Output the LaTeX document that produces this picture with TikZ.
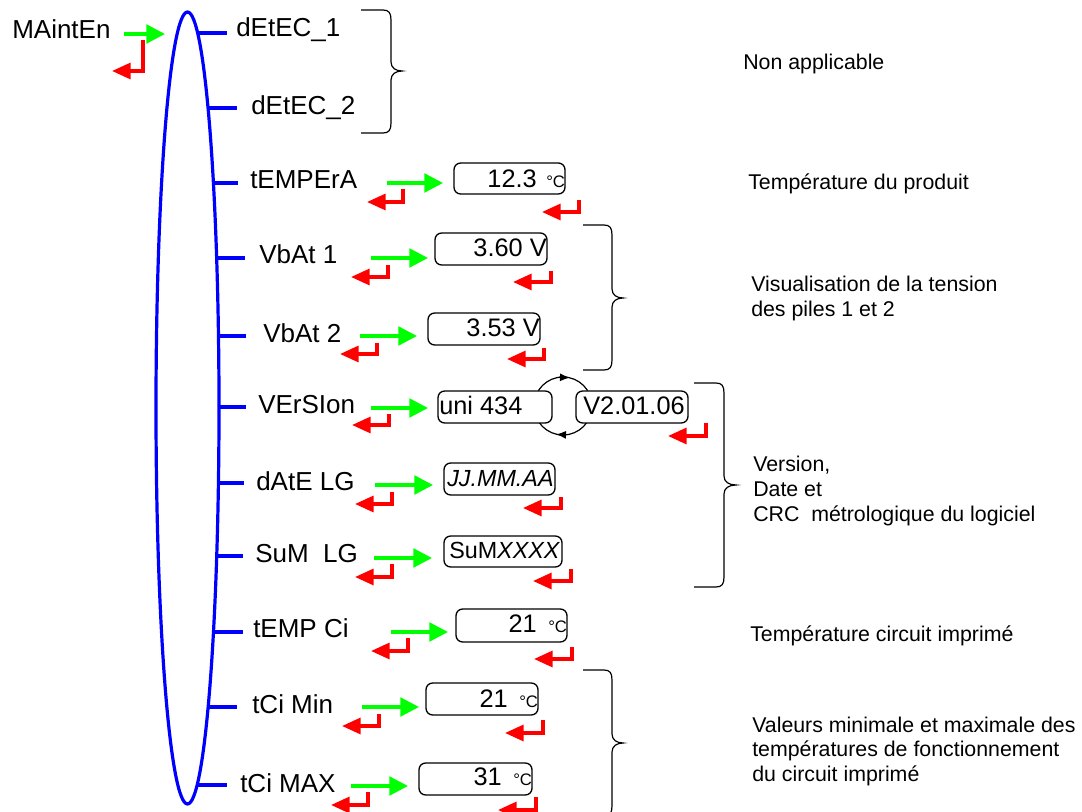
\documentclass[tikz,border=0pt]{standalone}
\usepackage{fontspec}
\setmainfont{Liberation Sans}
\usetikzlibrary{arrows.meta}
\definecolor{vgreen}{RGB}{0,255,0}
\definecolor{vred}{RGB}{255,0,0}
\definecolor{vblue}{RGB}{0,0,255}
\newcommand\drawbrace[6]{\draw[bracestyle] (#1,#4) -- (#2-8,#4) .. controls (#2-2,#4) and (#2,#4+3) .. (#2,#4+10) -- (#2,#5-9) .. controls (#2,#5-3) and (#2+5,#5) .. (#3,#5) .. controls (#2+5,#5) and (#2,#5+3) .. (#2,#5+9) -- (#2,#6-10) .. controls (#2,#6-3) and (#2-2,#6) .. (#2-8,#6) -- (#1,#6);}
\begin{document}
\begin{tikzpicture}[x=0.75pt,y=-0.75pt,
  lbl/.style={anchor=base west,inner sep=0pt,font=\fontsize{19.5pt}{23pt}\selectfont},
  valr/.style={anchor=base east,inner sep=0pt,font=\fontsize{19pt}{22pt}\selectfont},
  vall/.style={anchor=base west,inner sep=0pt,font=\fontsize{19pt}{22pt}\selectfont},
  deg/.style={anchor=base west,inner sep=0pt,font=\fontsize{12.5pt}{14pt}\selectfont},
  note/.style={anchor=base west,inner sep=0pt,font=\fontsize{16pt}{18.5pt}\selectfont},
  bx/.style 2 args={draw=black,fill=white,rounded corners=5pt,line width=1pt,inner sep=0pt,minimum width={#1*0.75pt},minimum height={#2*0.75pt}},
  tick/.style={draw=vblue,line width=2.3pt},
  garr/.style={draw=vgreen,line width=2.5pt,-{Triangle[length=14pt,width=14pt,fill=vgreen]}},
  rarr/.style={draw=vred,line width=2.5pt,-{Triangle[length=14pt,width=12pt,fill=vred]}},
  bracestyle/.style={draw=black,line width=0.9pt},
  loopstyle/.style={draw=black,line width=0.9pt},
  looptip/.style={draw=black,line width=0.9pt,-{Latex[length=7.5pt,width=6pt]}}]
\useasboundingbox (0,0) rectangle (1082,812);
\fill[white] (0,0) rectangle (1082,812);

% main ellipse
\draw[vblue,line width=2.4pt] (187.5,408) ellipse [x radius=31.5, y radius=396];

% ticks
\foreach \y/\xe/\nm in {33/227/a,108/237/b,183/238/c,258/245/d,336/246/e,407/246/f,483/244/g,556/243/h,632/243/i,707/237/j,785/227/k}{
  \coordinate (e\nm) at ({187.5+31.5*sqrt(1-((\y-408)/396)^2)-1},\y);
  \coordinate (t\nm) at (\xe,\y);
  \draw[tick] (e\nm) -- (t\nm);
}

% labels
\node[lbl] (lmaint) at (12,39) {MAintEn};
\node[lbl] (l1) at (236,37) {dEtEC\_1};
\node[lbl] (l2) at (251,115) {dEtEC\_2};
\node[lbl] (l3) at (250,189) {tEMPErA};
\node[lbl] (l4) at (259,264) {VbAt 1};
\node[lbl] (l5) at (263,343) {VbAt 2};
\node[lbl] (l6) at (258,414) {VErSIon};
\node[lbl] (l7) at (256,491) {dAtE LG};
\node[lbl] (l8) at (255,563) {SuM\ \ LG};
\node[lbl] (l9) at (253,638) {tEMP Ci};
\node[lbl] (l10) at (252,713) {tCi Min};
\node[lbl] (l11) at (240,792) {tCi MAX};

% version loop
\node[loopstyle,circle,minimum size=58*0.75pt,inner sep=0pt] (loop) at (563,406) {};
\coordinate (lt1) at (559,377.3);
\coordinate (lt2) at (570,377.6);
\coordinate (lb1) at (565,434.8);
\coordinate (lb2) at (556,434.4);
\draw[looptip] (lt1) -- (lt2);
\draw[looptip] (lb1) -- (lb2);

% value boxes
\node[bx={111}{31}] (b3) at (509.5,178.5) {};
\node[bx={112}{32}] (b4) at (491,249) {};
\node[bx={112}{32}] (b5) at (484,329) {};
\node[bx={114}{32}] (b6a) at (495,407) {};
\node[bx={112}{32}] (b6b) at (632,407) {};
\node[bx={111}{32}] (b7) at (499.5,479) {};
\node[bx={118}{31}] (b8) at (503,551.5) {};
\node[bx={111}{33}] (b9) at (511.5,625.5) {};
\node[bx={112}{32}] (b10) at (482,699) {};
\node[bx={113}{32}] (b11) at (475.5,779) {};

% values
\node[valr] (v3) at (537,188) {12.3};
\node[deg] (d3) at (546,188) {°C};
\node[valr] (v4) at (547,257) {3.60 V};
\node[valr] (v5) at (540,337) {3.53 V};
\node[vall] (v6a) at (439,415) {uni 434};
\node[vall] (v6b) at (583,415) {V2.01.06};
\node[vall,font=\fontsize{17.5pt}{21pt}\selectfont] (v7) at (447,487) {\itshape JJ.MM.AA};
\node[vall,font=\fontsize{17.5pt}{21pt}\selectfont] (v8) at (449,559) {SuM\textit{XXXX}};
\node[valr] (v9) at (537,633) {21};
\node[deg] (d9) at (548,633) {°C};
\node[valr] (v10) at (508,707) {21};
\node[deg] (d10) at (519,707) {°C};
\node[valr] (v11) at (502,785) {31};
\node[deg] (d11) at (513,785) {°C};

% green arrows
\foreach \xa/\xb/\y in {124/165/34,387/443/183,371/428/258,360/417/336,371/428/408,375/433/485,374/432/558,391/448/632,362/419/707,351/408/786}{
  \draw[garr] (\xa,\y) -- (\xb,\y);
}

% red return arrows
\foreach \x/\ya/\yb/\xt in {143/40/71/112,403/189/202/367,579/200/212/542,388/265/277/351,551/271/282/513,377/343/354/340,544/348/359/507,389/414/425/352,706/423/436/668,392/492/504/355,561/497/508/523,392/564/577/355,571/569/581/533,408/638/651/371,572/647/659/534,379/714/726/342,543/720/733/505,368/792/805/331,536/797/810/498}{
  \draw[rarr] (\x,\ya) |- (\xt,\yb);
}

% braces
\drawbrace{361}{391}{402}{10}{71}{133}
\drawbrace{583}{612}{623}{225}{298}{370}
\drawbrace{694}{724}{736}{383}{485}{587}
\drawbrace{583}{612}{623}{670}{743}{816}

% notes
\node[note] (n1) at (743,70) {Non applicable};
\node[note] (n2) at (748,190) {Température du produit};
\node[note] (n3) at (751,292) {\begin{tabular}[t]{@{}l@{}}Visualisation de la tension\\des piles 1 et 2\end{tabular}};
\node[note] (n4) at (753,472) {\begin{tabular}[t]{@{}l@{}}Version,\\Date et\\CRC\ \ métrologique du logiciel\end{tabular}};
\node[note] (n5) at (750,642) {Température circuit imprimé};
\node[note] (n6) at (752,732) {\begin{tabular}[t]{@{}l@{}}Valeurs minimale et maximale des\\températures de fonctionnement\\du circuit imprimé\end{tabular}};
\end{tikzpicture}
\end{document}
